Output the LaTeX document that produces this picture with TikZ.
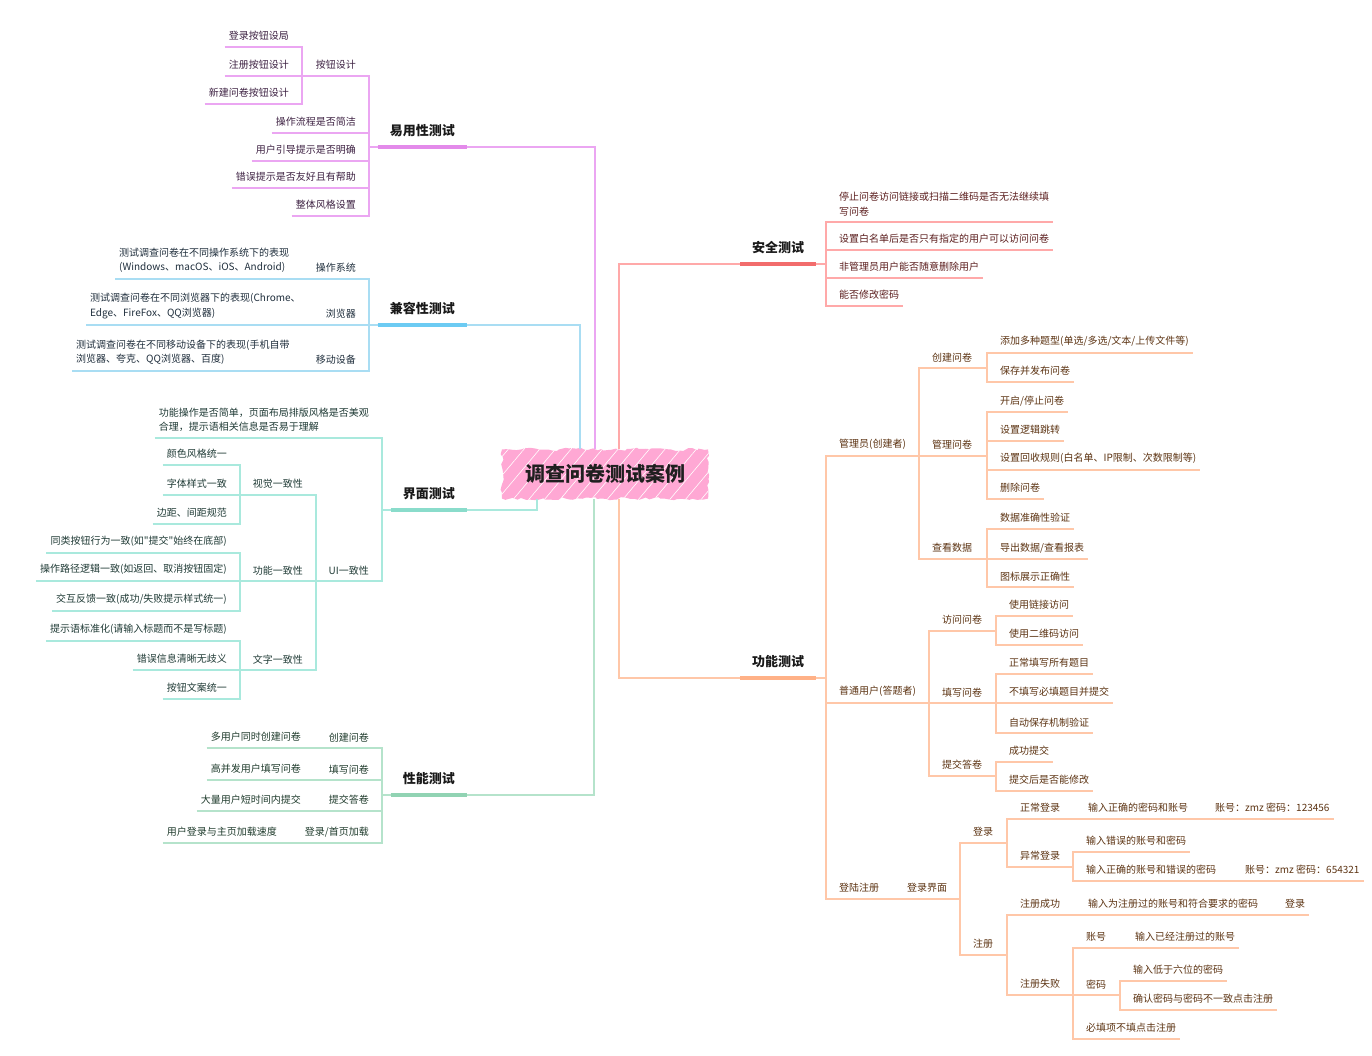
\documentclass[tikz,border=0pt]{standalone}
\usepackage{fontspec}
\setmainfont{Noto Sans CJK SC}
\newfontfamily\qfont{Noto Sans CJK SC}
\usetikzlibrary{decorations.pathmorphing,patterns.meta}

\definecolor{rootC}{HTML}{FFA8D4}
\definecolor{usaL}{HTML}{EBA6F2}
\definecolor{usaH}{HTML}{E38AEA}
\definecolor{usaT}{HTML}{3D2142}
\definecolor{cmpL}{HTML}{A9DDF3}
\definecolor{cmpH}{HTML}{6CCBF3}
\definecolor{cmpT}{HTML}{1F2E3C}
\definecolor{ifcL}{HTML}{A9E9DD}
\definecolor{ifcH}{HTML}{8ADCCB}
\definecolor{ifcT}{HTML}{1F3A35}
\definecolor{prfL}{HTML}{B5E3CB}
\definecolor{prfH}{HTML}{91D3B3}
\definecolor{prfT}{HTML}{1F3B2C}
\definecolor{secL}{HTML}{FFA9A9}
\definecolor{secH}{HTML}{F26C6C}
\definecolor{secT}{HTML}{5C1F1F}
\definecolor{fncL}{HTML}{FFC7A8}
\definecolor{fncH}{HTML}{FFB187}
\definecolor{fncT}{HTML}{5C3312}

\tikzset{
  under/.style 2 args={append after command={(\tikzlastnode.south west) edge[draw=#1,line width=#2] (\tikzlastnode.south east)}},
  leaf/.style 2 args={font=\fontsize{10}{14.5}\selectfont, text=#2, inner xsep=4pt, inner ysep=6pt, under={#1}{1.1pt}},
  head/.style={font=\fontsize{13}{15}\selectfont\bfseries, text=black!90, inner xsep=12pt, inner ysep=10pt, under={#1}{3.2pt}},
  link/.style={draw=#1, line width=1.1pt},
  root/.style={fill=rootC, text=black!88, font=\fontsize{20}{24}\selectfont\bfseries,
    inner xsep=23pt, inner ysep=15pt, decorate,
    decoration={random steps,segment length=4pt,amplitude=1.6pt},
    postaction={pattern={Lines[angle=50,distance=12pt,line width=.6pt]}, pattern color=white}},
  usa/.style={leaf={usaL}{usaT}, anchor=south east},
  cmp/.style={leaf={cmpL}{cmpT}, anchor=south east},
  ifc/.style={leaf={ifcL}{ifcT}, anchor=south east},
  prf/.style={leaf={prfL}{prfT}, anchor=south east},
  sec/.style={leaf={secL}{secT}, anchor=south west},
  fnc/.style={leaf={fncL}{fncT}, anchor=south west}
}

\newcommand{\LEdge}[3]{\draw[link=#1] (#2.south west) -| ([xshift=9pt]#3.south east) -- (#3.south east);}
\newcommand{\REdge}[3]{\draw[link=#1] (#2.south east) -| ([xshift=-9pt]#3.south west) -- (#3.south west);}
\newcommand{\JEdge}[3]{\draw[link=#1] (#2) -- (#3);}

\begin{document}
\begin{tikzpicture}[x=1pt,y=-1pt]
\useasboundingbox (0,0) rectangle (1372,1055);

\node[root] (ctr) at (605,474) {调查问卷测试案例};

% 易用性测试
\node[head=usaH, anchor=south east] (use) at (467,147) {易用性测试};
\node[usa] (btn) at (360,76) {按钮设计};
\node[usa] (btn1) at (293,47) {登录按钮设局};
\node[usa] (btn2) at (293,76) {注册按钮设计};
\node[usa] (btn3) at (293,104) {新建问卷按钮设计};
\node[usa] (use2) at (360,133) {操作流程是否简洁};
\node[usa] (use3) at (360,161) {用户引导提示是否明确};
\node[usa] (use4) at (360,188) {错误提示是否友好且有帮助};
\node[usa] (use5) at (360,216) {整体风格设置};

\draw[link=usaL] (use.south east) -| ([xshift=-10pt]ctr.north);
\LEdge{usaL}{use}{btn}
\LEdge{usaL}{use}{use2}
\LEdge{usaL}{use}{use3}
\LEdge{usaL}{use}{use4}
\LEdge{usaL}{use}{use5}
\LEdge{usaL}{btn}{btn1}
\LEdge{usaL}{btn}{btn2}
\LEdge{usaL}{btn}{btn3}

% 兼容性测试
\node[head=cmpH, anchor=south east] (cmp) at (467,325) {兼容性测试};
\node[cmp] (os) at (360,279) {操作系统};
\node[cmp, anchor=south west, align=left] (osd) at (115,279) {测试调查问卷在不同操作系统下的表现\\(Windows、macOS、iOS、Android)};
\node[cmp] (br) at (360,325) {浏览器};
\node[cmp, anchor=south west, align=left] (brd) at (86,325) {测试调查问卷在不同浏览器下的表现(Chrome、\\Edge、FireFox、QQ浏览器)};
\node[cmp] (mob) at (360,371) {移动设备};
\node[cmp, anchor=south west, align=left] (mobd) at (72,371) {测试调查问卷在不同移动设备下的表现(手机自带\\浏览器、夸克、QQ浏览器、百度)};

\draw[link=cmpL] (cmp.south east) -| ([xshift=-25pt]ctr.north);
\LEdge{cmpL}{cmp}{os}
\LEdge{cmpL}{cmp}{br}
\LEdge{cmpL}{cmp}{mob}
\JEdge{cmpL}{osd.south east}{os.south west}
\JEdge{cmpL}{brd.south east}{br.south west}
\JEdge{cmpL}{mobd.south east}{mob.south west}

% 界面测试
\node[head=ifcH, anchor=south east] (ifc) at (467,510) {界面测试};
\node[ifc, align=left] (ifd) at (373,438) {功能操作是否简单，页面布局排版风格是否美观\\合理，提示语相关信息是否易于理解};
\node[ifc] (ui) at (373,581) {UI一致性};
\node[ifc] (vis) at (307,495) {视觉一致性};
\node[ifc] (vis1) at (231,465) {颜色风格统一};
\node[ifc] (vis2) at (231,495) {字体样式一致};
\node[ifc] (vis3) at (231,524) {边距、间距规范};
\node[ifc] (fun) at (307,581) {功能一致性};
\node[ifc] (fun1) at (231,553) {同类按钮行为一致(如{\qfont"}提交{\qfont"}始终在底部)};
\node[ifc] (fun2) at (231,581) {操作路径逻辑一致(如返回、取消按钮固定)};
\node[ifc] (fun3) at (231,611) {交互反馈一致(成功/失败提示样式统一)};
\node[ifc] (txt) at (307,670) {文字一致性};
\node[ifc] (txt1) at (231,641) {提示语标准化(请输入标题而不是写标题)};
\node[ifc] (txt2) at (231,670) {错误信息清晰无歧义};
\node[ifc] (txt3) at (231,699) {按钮文案统一};

\draw[link=ifcL] (ifc.south east) -| ([xshift=-68pt]ctr.south);
\LEdge{ifcL}{ifc}{ifd}
\LEdge{ifcL}{ifc}{ui}
\LEdge{ifcL}{ui}{vis}
\LEdge{ifcL}{ui}{fun}
\LEdge{ifcL}{ui}{txt}
\LEdge{ifcL}{vis}{vis1}
\LEdge{ifcL}{vis}{vis2}
\LEdge{ifcL}{vis}{vis3}
\LEdge{ifcL}{fun}{fun1}
\LEdge{ifcL}{fun}{fun2}
\LEdge{ifcL}{fun}{fun3}
\LEdge{ifcL}{txt}{txt1}
\LEdge{ifcL}{txt}{txt2}
\LEdge{ifcL}{txt}{txt3}

% 性能测试
\node[head=prfH, anchor=south east] (prf) at (467,795) {性能测试};
\node[prf] (prf1) at (373,748) {创建问卷};
\node[prf] (prf1d) at (305,748) {多用户同时创建问卷};
\node[prf] (prf2) at (373,780) {填写问卷};
\node[prf] (prf2d) at (305,780) {高并发用户填写问卷};
\node[prf] (prf3) at (373,811) {提交答卷};
\node[prf] (prf3d) at (305,811) {大量用户短时间内提交};
\node[prf] (prf4) at (373,843) {登录/首页加载};
\node[prf] (prf4d) at (281,843) {用户登录与主页加载速度};

\draw[link=prfL] (prf.south east) -| ([xshift=-11pt]ctr.south);
\LEdge{prfL}{prf}{prf1}
\LEdge{prfL}{prf}{prf2}
\LEdge{prfL}{prf}{prf3}
\LEdge{prfL}{prf}{prf4}
\JEdge{prfL}{prf1d.south east}{prf1.south west}
\JEdge{prfL}{prf2d.south east}{prf2.south west}
\JEdge{prfL}{prf3d.south east}{prf3.south west}
\JEdge{prfL}{prf4d.south east}{prf4.south west}

% 安全测试
\node[head=secH, anchor=south west] (sec) at (740,264) {安全测试};
\node[sec, align=left] (sec1) at (835,222) {停止问卷访问链接或扫描二维码是否无法继续填\\写问卷};
\node[sec] (sec2) at (835,250) {设置白名单后是否只有指定的用户可以访问问卷};
\node[sec] (sec3) at (835,278) {非管理员用户能否随意删除用户};
\node[sec] (sec4) at (835,306) {能否修改密码};

\draw[link=secL] (sec.south west) -| ([xshift=14pt]ctr.north);
\REdge{secL}{sec}{sec1}
\REdge{secL}{sec}{sec2}
\REdge{secL}{sec}{sec3}
\REdge{secL}{sec}{sec4}

% 功能测试
\node[head=fncH, anchor=south west] (fnc) at (740,678) {功能测试};
\node[fnc] (adm) at (835,456) {管理员(创建者)};
\node[fnc] (adm1) at (928,368) {创建问卷};
\node[fnc] (adm11) at (996,353) {添加多种题型(单选/多选/文本/上传文件等)};
\node[fnc] (adm12) at (996,382) {保存并发布问卷};
\node[fnc] (adm2) at (928,456) {管理问卷};
\node[fnc] (adm21) at (996,412) {开启/停止问卷};
\node[fnc] (adm22) at (996,441) {设置逻辑跳转};
\node[fnc] (adm23) at (996,470) {设置回收规则(白名单、IP限制、次数限制等)};
\node[fnc] (adm24) at (996,499) {删除问卷};
\node[fnc] (adm3) at (928,559) {查看数据};
\node[fnc] (adm31) at (996,529) {数据准确性验证};
\node[fnc] (adm32) at (996,559) {导出数据/查看报表};
\node[fnc] (adm33) at (996,587) {图标展示正确性};

\node[fnc] (usr) at (835,703) {普通用户(答题者)};
\node[fnc] (usr1) at (938,631) {访问问卷};
\node[fnc] (usr11) at (1005,616) {使用链接访问};
\node[fnc] (usr12) at (1005,645) {使用二维码访问};
\node[fnc] (usr2) at (938,703) {填写问卷};
\node[fnc] (usr21) at (1005,674) {正常填写所有题目};
\node[fnc] (usr22) at (1005,703) {不填写必填题目并提交};
\node[fnc] (usr23) at (1005,733) {自动保存机制验证};
\node[fnc] (usr3) at (938,776) {提交答卷};
\node[fnc] (usr31) at (1005,762) {成功提交};
\node[fnc] (usr32) at (1005,791) {提交后是否能修改};

\node[fnc] (reg) at (835,899) {登陆注册};
\node[fnc] (lgi) at (903,899) {登录界面};
\node[fnc] (lg) at (969,843) {登录};
\node[fnc] (lg1) at (1016,819) {正常登录};
\node[fnc] (lg1a) at (1084,819) {输入正确的密码和账号};
\node[fnc] (lg1b) at (1211,819) {账号：zmz 密码：123456};
\node[fnc] (lg2) at (1016,867) {异常登录};
\node[fnc] (lg21) at (1082,852) {输入错误的账号和密码};
\node[fnc] (lg22) at (1082,881) {输入正确的账号和错误的密码};
\node[fnc] (lg22a) at (1241,881) {账号：zmz 密码：654321};
\node[fnc] (rg) at (969,955) {注册};
\node[fnc] (rg1) at (1016,915) {注册成功};
\node[fnc] (rg1a) at (1084,915) {输入为注册过的账号和符合要求的密码};
\node[fnc] (rg1b) at (1281,915) {登录};
\node[fnc] (rg2) at (1016,995) {注册失败};
\node[fnc] (rg21) at (1082,948) {账号};
\node[fnc] (rg21a) at (1131,948) {输入已经注册过的账号};
\node[fnc] (rg22) at (1082,995) {密码};
\node[fnc] (rg221) at (1129,981) {输入低于六位的密码};
\node[fnc] (rg222) at (1129,1010) {确认密码与密码不一致点击注册};
\node[fnc] (rg23) at (1082,1039) {必填项不填点击注册};

\draw[link=fncL] (fnc.south west) -| ([xshift=14pt]ctr.south);
\REdge{fncL}{fnc}{adm}
\REdge{fncL}{fnc}{usr}
\REdge{fncL}{fnc}{reg}
\REdge{fncL}{adm}{adm1}
\REdge{fncL}{adm}{adm2}
\REdge{fncL}{adm}{adm3}
\REdge{fncL}{adm1}{adm11}
\REdge{fncL}{adm1}{adm12}
\REdge{fncL}{adm2}{adm21}
\REdge{fncL}{adm2}{adm22}
\REdge{fncL}{adm2}{adm23}
\REdge{fncL}{adm2}{adm24}
\REdge{fncL}{adm3}{adm31}
\REdge{fncL}{adm3}{adm32}
\REdge{fncL}{adm3}{adm33}
\REdge{fncL}{usr}{usr1}
\REdge{fncL}{usr}{usr2}
\REdge{fncL}{usr}{usr3}
\REdge{fncL}{usr1}{usr11}
\REdge{fncL}{usr1}{usr12}
\REdge{fncL}{usr2}{usr21}
\REdge{fncL}{usr2}{usr22}
\REdge{fncL}{usr2}{usr23}
\REdge{fncL}{usr3}{usr31}
\REdge{fncL}{usr3}{usr32}
\JEdge{fncL}{reg.south east}{lgi.south west}
\REdge{fncL}{lgi}{lg}
\REdge{fncL}{lgi}{rg}
\REdge{fncL}{lg}{lg1}
\REdge{fncL}{lg}{lg2}
\JEdge{fncL}{lg1.south east}{lg1a.south west}
\JEdge{fncL}{lg1a.south east}{lg1b.south west}
\REdge{fncL}{lg2}{lg21}
\REdge{fncL}{lg2}{lg22}
\JEdge{fncL}{lg22.south east}{lg22a.south west}
\REdge{fncL}{rg}{rg1}
\REdge{fncL}{rg}{rg2}
\JEdge{fncL}{rg1.south east}{rg1a.south west}
\JEdge{fncL}{rg1a.south east}{rg1b.south west}
\REdge{fncL}{rg2}{rg21}
\REdge{fncL}{rg2}{rg22}
\REdge{fncL}{rg2}{rg23}
\JEdge{fncL}{rg21.south east}{rg21a.south west}
\REdge{fncL}{rg22}{rg221}
\REdge{fncL}{rg22}{rg222}
\end{tikzpicture}
\end{document}
